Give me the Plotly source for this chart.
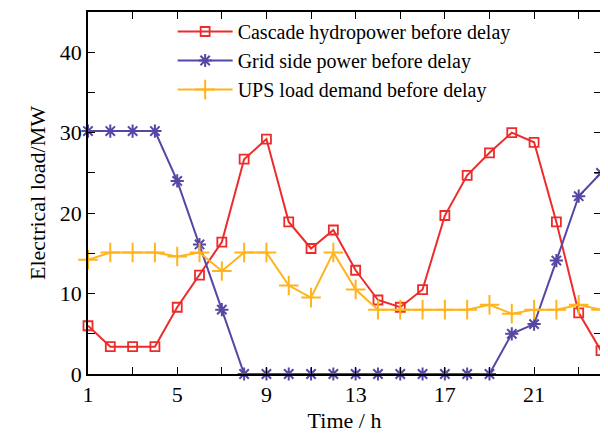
import plotly.graph_objects as go

hours = list(range(1, 25))
cascade = [6.0, 3.4, 3.4, 3.4, 8.3, 12.3, 16.4, 26.7, 29.2, 18.9, 15.6, 17.9,
           12.9, 9.2, 8.3, 10.5, 19.7, 24.7, 27.5, 30.0, 28.8, 18.9, 7.6, 2.9]
grid = [30.2, 30.2, 30.2, 30.2, 24.0, 16.1, 8.0, 0, 0, 0, 0, 0,
        0, 0, 0, 0, 0, 0, 0, 5.0, 6.2, 14.1, 22.1, 25.0]
ups = [14.2, 15.1, 15.1, 15.1, 14.6, 15.1, 12.8, 15.1, 15.1, 11.0, 9.5, 15.1,
       10.5, 8.0, 8.0, 8.0, 8.0, 8.0, 8.6, 7.5, 8.0, 8.0, 8.6, 8.0]

FONT = "Liberation Serif"

fig = go.Figure()
fig.add_trace(go.Scatter(
    x=hours, y=cascade, name="Cascade hydropower before delay",
    mode="lines+markers", line=dict(color="#EE2B2B", width=2), cliponaxis=False,
    marker=dict(symbol="square-open", size=9, color="#EE2B2B", line=dict(width=1.8)),
))
fig.add_trace(go.Scatter(
    x=hours, y=grid, name="Grid side power before delay",
    mode="lines+markers", line=dict(color="#5547A3", width=2), cliponaxis=False,
    marker=dict(symbol="asterisk-open", size=11, color="#5547A3", line=dict(width=2)),
))
fig.add_trace(go.Scatter(
    x=hours, y=ups, name="UPS load demand before delay",
    mode="lines+markers", line=dict(color="#FFB41E", width=2), cliponaxis=False,
    marker=dict(symbol="cross-thin-open", size=14, color="#FFB41E", line=dict(width=2)),
))

axis_common = dict(
    showline=True, linecolor="black", linewidth=1.5, mirror="ticks",
    ticks="inside", ticklen=7, tickcolor="black", tickwidth=1.2,
    showgrid=False, zeroline=False, automargin=False,
    tickfont=dict(family=FONT, size=22, color="black"),
)

# page body has an 8px margin, so the figure is sized to fit inside the window
fig.update_layout(
    width=600, height=435,
    plot_bgcolor="white", paper_bgcolor="white",
    margin=dict(l=80, r=7, t=4, b=69),
    font=dict(family=FONT, color="black"),
    xaxis=dict(
        range=[1, 24], tickvals=[1, 5, 9, 13, 17, 21],
        minor=dict(tick0=1, dtick=2, ticks="inside", ticklen=7, tickcolor="black", tickwidth=1.2),
        title=dict(text="Time / h", font=dict(family=FONT, size=22), standoff=6),
        **axis_common,
    ),
    yaxis=dict(
        range=[0, 45], tickvals=[0, 10, 20, 30, 40],
        minor=dict(dtick=5, tick0=0, ticks="inside", ticklen=7, tickcolor="black", tickwidth=1.2),
        title=dict(text="Electrical load/MW", font=dict(family=FONT, size=22), standoff=8),
        **axis_common,
    ),
    legend=dict(
        x=0.165, y=1.0, xanchor="left", yanchor="top",
        bgcolor="rgba(0,0,0,0)", font=dict(family=FONT, size=20),
        tracegroupgap=0, itemwidth=55,
    ),
)

fig.write_html("out.html")
